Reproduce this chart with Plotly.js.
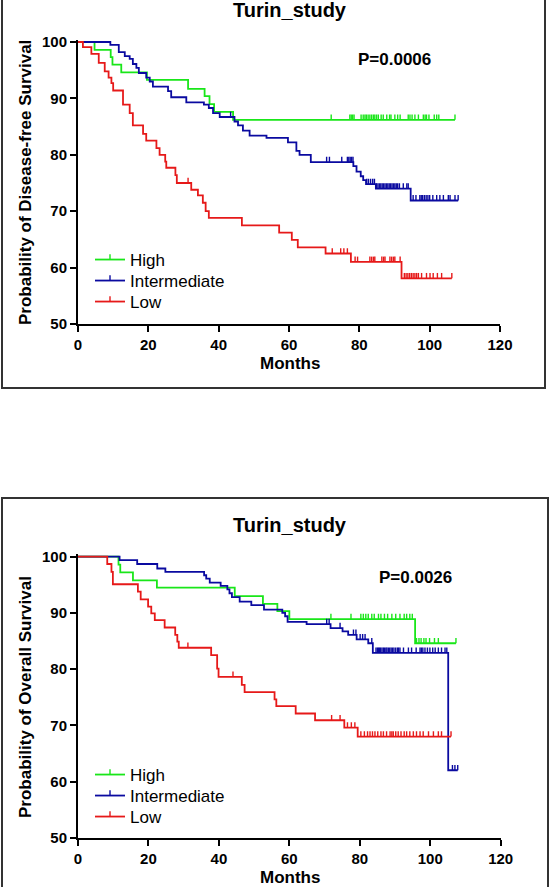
<!DOCTYPE html>
<html><head><meta charset="utf-8">
<script src="https://cdn.plot.ly/plotly-3.0.1.min.js"></script>
<style>html,body{margin:0;padding:0;background:#fff}#chart{width:550px;height:887px}</style>
</head><body><div id="chart"></div>
<script>
// ---------- DATA ----------
const groupNames = ['High', 'Intermediate', 'Low'];
const panelTitles = ['Turin_study', 'Turin_study'];
const pValues = ['P=0.0006', 'P=0.0026'];
const yTitles = ['Probability of Disease-free Survival', 'Probability of Overall Survival'];
const xTitle = 'Months';
const xTicks = [0, 20, 40, 60, 80, 100, 120];
const yTicks = [50, 60, 70, 80, 90, 100];

// Disease-free survival: event times (months) and survival (%) after each step
const dfsHighT = [4.7, 9.3, 9.8, 12.3, 19.6, 31.3, 36.0, 37.4, 38.7, 44.1];
const dfsHighS = [98.6, 97.3, 96.0, 94.6, 93.3, 91.7, 90.4, 89.0, 87.6, 86.2];
const dfsHighCens = [72.0, 77.3, 77.7, 78.1, 78.5, 80.5, 81.1, 81.6, 82.0, 82.5, 83.0, 83.5, 84.0, 84.4, 84.9, 85.4, 86.2, 86.8, 87.8, 88.6, 89.0, 90.1, 90.9, 91.6, 93.9, 94.4, 95.0, 95.8, 96.8, 98.2, 98.7, 99.1, 99.8, 101.3, 102.0, 102.6, 107.2];

const dfsIntT = [9.2, 11.6, 13.3, 14.7, 15.6, 16.6, 17.3, 19.4, 20.4, 21.3, 25.6, 26.5, 30.8, 35.8, 37.2, 38.4, 40.3, 44.5, 45.5, 46.9, 48.8, 53.6, 59.7, 62.1, 63.0, 66.2, 78.3, 79.2, 80.4, 81.1, 81.9, 84.7, 94.6];
const dfsIntS = [99.5, 98.2, 97.5, 97.0, 96.1, 95.4, 94.5, 93.7, 93.0, 92.1, 91.3, 90.2, 89.3, 88.9, 88.3, 87.4, 86.7, 85.9, 85.2, 84.3, 83.4, 83.0, 82.2, 80.7, 80.0, 78.7, 78.0, 77.0, 76.2, 75.5, 74.8, 74.0, 71.9];
const dfsIntCens = [43.4, 70.7, 71.5, 75.0, 76.6, 77.0, 77.4, 77.8, 78.2, 82.1, 82.6, 83.2, 83.8, 84.3, 84.9, 85.3, 85.7, 86.1, 86.5, 86.9, 87.3, 87.7, 88.1, 88.5, 88.9, 89.3, 89.7, 90.1, 90.5, 90.9, 91.4, 92.5, 93.5, 93.9, 95.3, 96.1, 97.2, 97.6, 98.0, 98.5, 99.0, 99.5, 100.0, 100.9, 102.0, 102.9, 103.9, 105.3, 105.8, 107.2, 108.1];

const dfsLowT = [1.4, 3.8, 5.9, 7.6, 8.7, 9.5, 10.0, 12.8, 14.7, 15.6, 18.5, 19.4, 22.3, 23.2, 24.8, 25.1, 27.7, 28.1, 32.2, 34.1, 35.5, 36.3, 37.2, 46.6, 57.2, 60.8, 62.5, 70.4, 77.6, 92.0];
const dfsLowS = [99.1, 97.9, 96.3, 94.8, 93.7, 92.7, 91.4, 88.9, 87.4, 85.2, 83.7, 82.5, 81.2, 80.0, 78.8, 77.7, 76.4, 75.0, 73.8, 72.8, 71.5, 70.0, 68.8, 67.5, 66.2, 64.9, 63.6, 62.5, 61.0, 58.1];
const dfsLowCens = [31.3, 72.3, 74.7, 75.6, 76.6, 78.8, 79.5, 83.0, 83.5, 84.0, 84.4, 86.4, 86.9, 87.3, 88.7, 89.2, 89.7, 90.1, 91.6, 92.8, 93.3, 93.8, 94.3, 94.8, 95.3, 95.8, 96.3, 96.8, 97.7, 99.1, 100.1, 101.0, 102.2, 103.4, 106.3];

// Overall survival
const osHighT = [11.5, 12.0, 15.6, 22.4, 44.5, 52.5, 56.6, 60.0, 95.7];
const osHighS = [98.6, 97.2, 95.8, 94.5, 93.0, 91.6, 90.3, 88.9, 84.6];
const osHighCens = [71.8, 77.5, 80.3, 81.0, 81.7, 82.4, 83.4, 84.1, 85.3, 86.0, 87.0, 87.9, 89.1, 90.2, 91.4, 92.6, 93.3, 94.2, 94.9, 96.1, 96.8, 97.4, 98.2, 98.8, 99.8, 101.2, 102.3, 107.3];

const osIntT = [11.8, 16.8, 22.5, 24.8, 35.8, 36.4, 37.4, 40.5, 42.4, 43.0, 43.7, 45.9, 49.2, 52.8, 58.0, 58.8, 59.5, 64.9, 71.7, 75.1, 76.7, 79.1, 82.4, 83.7, 105.1];
const osIntS = [99.4, 98.7, 97.9, 97.3, 96.7, 96.1, 95.4, 94.8, 94.2, 93.5, 92.8, 92.0, 91.4, 90.6, 90.0, 89.4, 88.4, 88.0, 87.3, 86.7, 86.1, 85.3, 84.6, 82.9, 62.0];
const osIntCens = [70.6, 71.3, 74.4, 78.2, 78.9, 80.1, 80.8, 81.5, 83.4, 84.6, 85.0, 85.3, 85.6, 85.9, 86.3, 86.7, 87.0, 87.4, 87.7, 88.1, 88.5, 88.9, 89.3, 89.7, 90.2, 90.7, 91.0, 91.4, 92.4, 93.8, 94.7, 96.0, 97.1, 97.5, 97.9, 98.5, 99.2, 99.9, 100.7, 101.4, 102.3, 103.2, 104.2, 104.7, 106.3, 107.0, 107.8];

const osLowT = [8.3, 9.5, 9.9, 17.0, 17.8, 19.9, 20.8, 21.8, 24.6, 27.6, 28.2, 28.6, 37.8, 39.5, 39.9, 46.5, 47.3, 55.8, 56.3, 61.8, 67.3, 75.6, 79.4];
const osLowS = [98.7, 97.3, 95.1, 93.8, 92.4, 91.1, 89.9, 88.7, 87.4, 86.1, 84.9, 83.8, 82.5, 80.1, 78.6, 77.2, 75.9, 74.6, 73.4, 72.1, 70.9, 69.6, 68.0];
const osLowCens = [31.2, 44.0, 72.0, 74.4, 76.5, 77.6, 78.6, 80.3, 81.3, 82.2, 82.9, 83.6, 84.3, 85.1, 86.0, 86.7, 87.6, 88.6, 89.1, 89.5, 90.2, 90.9, 91.7, 92.6, 93.3, 94.2, 95.2, 96.1, 97.1, 98.0, 99.5, 100.9, 102.3, 103.2, 105.9];

// ---------- STYLE / LAYOUT ----------
const W = 550, H = 887;
const FONT = '"Liberation Sans", Arial, Helvetica, sans-serif';
const colors = ['#19e619', '#0a0aa0', '#e61919'];
const px = v => v / W, py = v => 1 - v / H;
const censorMarker = (c, ang) => ({ symbol: 'line-ns', size: 3.8, angle: ang, standoff: 2.7, color: c, line: { color: c, width: 1.4 } });

function stepAt(T, S, t) {
  let v = 100;
  for (let i = 0; i < T.length; i++) { if (T[i] <= t) v = S[i]; else break; }
  return v;
}
function curveTraces(T, S, C, color, xa, ya) {
  const end = Math.max(T[T.length - 1], ...C);
  return [
    { type: 'scatter', mode: 'lines', x: [0].concat(T, [end]), y: [100].concat(S, [S[S.length - 1]]),
      xaxis: xa, yaxis: ya, line: { shape: 'hv', color: color, width: 1.8 }, showlegend: false, hoverinfo: 'skip' },
    { type: 'scatter', mode: 'markers', x: C, y: C.map(t => stepAt(T, S, t)), xaxis: xa, yaxis: ya,
      marker: censorMarker(color, 180), showlegend: false, hoverinfo: 'skip' }
  ];
}
function legendTrace(name, color, legendId, xa, ya) {
  return { type: 'scatter', mode: 'lines+markers', x: [null], y: [null], name: name, legend: legendId,
    xaxis: xa, yaxis: ya, line: { color: color, width: 1.8 }, marker: censorMarker(color, 0) };
}

const panels = [
  { xa: 'x', ya: 'y', legs: ['legend', 'legend2', 'legend3'], legY: [260, 281, 302],
    data: [[dfsHighT, dfsHighS, dfsHighCens], [dfsIntT, dfsIntS, dfsIntCens], [dfsLowT, dfsLowS, dfsLowCens]] },
  { xa: 'x2', ya: 'y2', legs: ['legend4', 'legend5', 'legend6'], legY: [775, 796, 817],
    data: [[osHighT, osHighS, osHighCens], [osIntT, osIntS, osIntCens], [osLowT, osLowS, osLowCens]] }
];

const traces = [];
panels.forEach(p => {
  p.data.forEach((d, i) => traces.push(...curveTraces(d[0], d[1], d[2], colors[i], p.xa, p.ya)));
  groupNames.forEach((g, i) => traces.push(legendTrace(g, colors[i], p.legs[i], p.xa, p.ya)));
});

const tickFont = { family: FONT, size: 15, color: '#000', weight: 'bold' };
function xAxis(d0, d1, anchor) {
  return { domain: [px(d0), px(d1)], anchor: anchor, range: [0, 120], tickmode: 'array', tickvals: xTicks,
    ticktext: xTicks.map(String), showline: true, linecolor: '#000', linewidth: 2, ticks: 'outside',
    ticklen: 6, tickwidth: 2, tickcolor: '#000', showgrid: false, zeroline: false, tickfont: tickFont, fixedrange: true };
}
function yAxis(pix50, pix100, anchor) {
  const per = (pix50 - pix100) / 50;
  const top = pix100 - 0.4 * per;
  return { domain: [py(pix50), py(top)], anchor: anchor, range: [50, 100.4], tickmode: 'array', tickvals: yTicks,
    ticktext: yTicks.map(String), showline: true, linecolor: '#000', linewidth: 2, ticks: 'outside',
    ticklen: 6, tickwidth: 2, tickcolor: '#000', showgrid: false, zeroline: false, tickfont: tickFont, fixedrange: true };
}

function ann(text, x, y, size, bold, angle) {
  return { text: text, xref: 'paper', yref: 'paper', x: px(x), y: py(y), xanchor: 'center', yanchor: 'middle',
    showarrow: false, textangle: angle || 0,
    font: { family: FONT, size: size, color: '#000', weight: bold ? 'bold' : 'normal' } };
}

const annotations = [
  ann(panelTitles[0], 290, 10, 20, true),
  ann(pValues[0], 394, 60, 17, true),
  ann(yTitles[0], 25, 183, 17, true, -90),
  ann(xTitle, 290, 363, 17, true),
  ann(panelTitles[1], 290, 525, 20, true),
  ann(pValues[1], 415.5, 577, 17, true),
  ann(yTitles[1], 25, 697, 17, true, -90),
  ann(xTitle, 290, 877, 17, true)
];

function box(x0, y0, x1, y1) {
  return { type: 'rect', xref: 'paper', yref: 'paper', x0: px(x0), x1: px(x1), y0: py(y1), y1: py(y0),
    line: { color: '#333', width: 2 }, fillcolor: 'rgba(0,0,0,0)' };
}

const legendStyle = (yMid) => ({ x: px(90), y: py(yMid), xanchor: 'left', yanchor: 'middle', bgcolor: 'rgba(0,0,0,0)',
  borderwidth: 0, itemwidth: 30, font: { family: FONT, size: 17, color: '#000' } });

const layout = {
  width: W, height: H, margin: { l: 0, r: 0, t: 0, b: 0 }, paper_bgcolor: '#fff', plot_bgcolor: '#fff',
  showlegend: true,
  xaxis: xAxis(78, 500, 'y'), yaxis: yAxis(324, 42, 'x'),
  xaxis2: xAxis(78, 500.7, 'y2'), yaxis2: yAxis(837.7, 556.7, 'x2'),
  annotations: annotations,
  shapes: [box(2, -20, 545, 388), box(2, 498, 548, 905)]
};
panels.forEach(p => p.legs.forEach((id, i) => { layout[id] = legendStyle(p.legY[i]); }));

Plotly.newPlot('chart', traces, layout, { staticPlot: true, displayModeBar: false });
</script>
</body></html>
